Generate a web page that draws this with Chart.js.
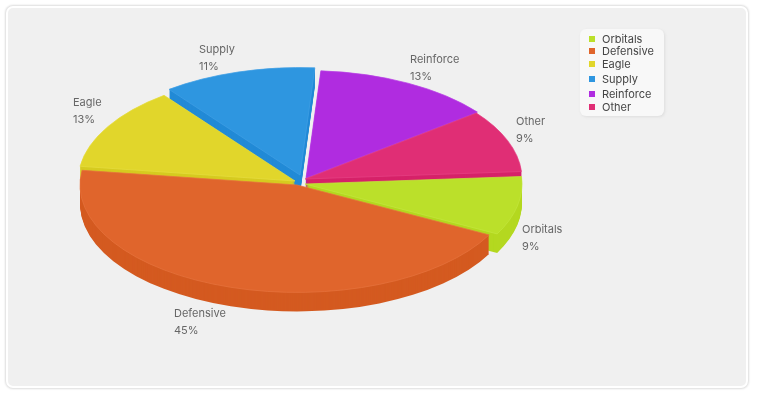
<!DOCTYPE html>
<html>
<head>
<meta charset="UTF-8">
<script src="https://cdn.jsdelivr.net/npm/chart.js@4"></script>
<style>
  body { margin: 0; background: #fff; font-family: Inter, sans-serif; }
  #frame { position: absolute; left: 6px; top: 6px; width: 738px; height: 378px; background: #f0f0f0;
    border: 2px solid #fff; border-radius: 7px; box-shadow: 0 0 2px 1px #ddd; }
  #wrap { position: absolute; left: 0; top: 0; width: 760px; height: 400px; }
  #legend { position: absolute; left: 580px; top: 29px; width: 84px; height: 87px; background: #f8f8f8;
    border-radius: 6px; box-shadow: 1px 1px 3px #ddd; }
  #legend div { position: absolute; left: 22px; font-size: 11px; line-height: 13px; color: #444; white-space: nowrap; }
  #legend i { position: absolute; left: -13px; top: 3px; width: 6px; height: 6px; }
</style>
</head>
<body>
<div id="frame"></div>
<div id="wrap"><canvas id="pie" width="760" height="400"></canvas></div>
<div id="legend"></div>
<script>
// 値
const categories = ["Orbitals", "Defensive", "Eagle", "Supply", "Reinforce", "Other"];
const shares = [8.8, 44.5, 12.5, 11.4, 13.4, 9.4];
const percentLabels = ["9%", "45%", "13%", "11%", "13%", "9%"];
const topColors = ["#bbe02a", "#e0652c", "#e1d62b", "#2e96e0", "#b02ce0", "#e02e75"];
const edgeColors = ["#c2e53c", "#e5723c", "#e6dc3e", "#3f9fe4", "#b83fe4", "#e54083"];
const wallColors = ["#b4d820", "#d45a20", "#d6cb20", "#228ad6", "#a522d6", "#d62269"];

// 見た目の設定
const drawOrder = [3, 4, 2, 5, 0, 1];
const sliceShift = [[4, 5], [-4, 6], [-6, 2], [-1, -4], [5, -1], [4, 0]];
const labelSpots = [[522, 230], [174, 314], [73, 103], [199, 50], [410, 60], [516, 122]];
const centerX = 301, centerY = 179, squash = 0.495, depth = 19;

const pie3d = {
  id: "pie3d",
  beforeDatasetsDraw(chart) {
    const ctx = chart.ctx;
    const arcs = chart.getDatasetMeta(0).data;

    drawOrder.forEach((i) => {
      const arc = arcs[i];
      const wall = Object.create(arc);
      wall.options = Object.assign({}, arc.options, { backgroundColor: wallColors[i], borderWidth: 0 });

      for (let d = depth; d >= 0; d--) {
        ctx.save();
        ctx.translate(centerX + sliceShift[i][0], centerY + sliceShift[i][1] + d);
        ctx.scale(1, squash);
        ctx.translate(-arc.x, -arc.y);
        (d === 0 ? arc : wall).draw(ctx);
        ctx.restore();
      }
    });

    // ラベル
    ctx.save();
    ctx.font = "11px Inter";
    ctx.fillStyle = "#666";
    ctx.textBaseline = "middle";
    categories.forEach((name, i) => {
      ctx.fillText(name, labelSpots[i][0], labelSpots[i][1]);
      ctx.fillText(percentLabels[i], labelSpots[i][0], labelSpots[i][1] + 17);
    });
    ctx.restore();
    return false;
  },
};

new Chart(document.getElementById("pie"), {
  type: "pie",
  data: {
    labels: categories,
    datasets: [
      {
        data: shares,
        backgroundColor: topColors,
        borderColor: edgeColors,
        borderWidth: 1,
      },
    ],
  },
  options: {
    responsive: false,
    animation: false,
    rotation: 86,
    radius: 217,
    plugins: {
      legend: { display: false },
      tooltip: { enabled: false },
    },
  },
  plugins: [pie3d],
});

// 凡例
const legendRows = [4, 16, 29, 44, 59, 72];
const legend = document.getElementById("legend");
categories.forEach((name, i) => {
  const row = document.createElement("div");
  row.style.top = legendRows[i] + "px";
  row.textContent = name;
  const box = document.createElement("i");
  box.style.background = topColors[i];
  row.appendChild(box);
  legend.appendChild(row);
});
</script>
</body>
</html>
